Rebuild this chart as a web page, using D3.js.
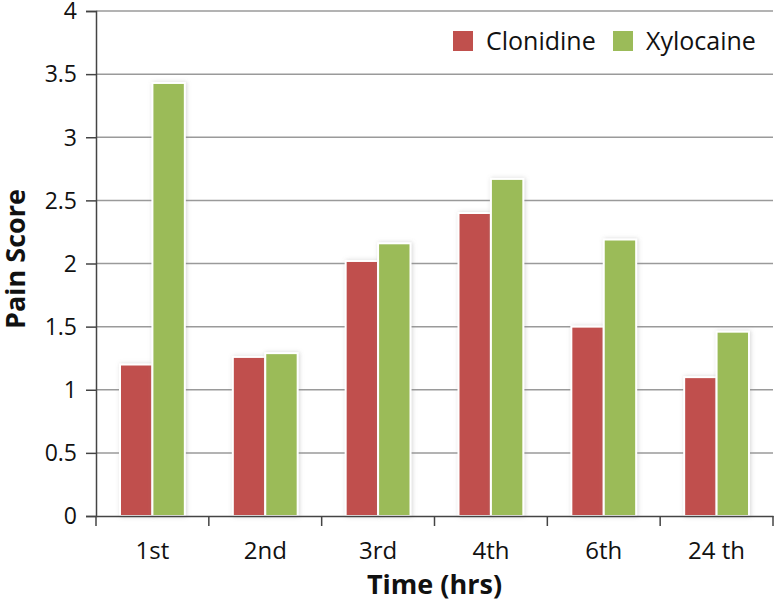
<!DOCTYPE html>
<html>
<head>
<meta charset="utf-8">
<script src="https://cdn.jsdelivr.net/npm/d3@7"></script>
<style>
  body { margin: 0; background: #fff; }
  text { font-family: "Open Sans", "Noto Sans", sans-serif; fill: #111; }
</style>
</head>
<body>
<div id="chart"></div>
<script>
// data
const times = ["1st", "2nd", "3rd", "4th", "6th", "24 th"];
const seriesNames = ["Clonidine", "Xylocaine"];
const clonidine = [1.2, 1.26, 2.02, 2.4, 1.5, 1.1];
const xylocaine = [3.43, 1.29, 2.16, 2.67, 2.19, 1.46];
const yTicks = [0, 0.5, 1, 1.5, 2, 2.5, 3, 3.5, 4];
const colors = ["#C0504D", "#9BBB59"];

var svgWidth = 774;
var svgHeight = 606;

var margin = { top: 11, right: 1, bottom: 90, left: 96 };
var width = svgWidth - margin.left - margin.right;
var height = svgHeight - margin.top - margin.bottom;

var svg = d3.select("#chart")
  .append("svg")
  .attr("width", svgWidth)
  .attr("height", svgHeight);

// soft shadow round the bars
var defs = svg.append("defs");
defs.append("filter")
  .attr("id", "shadow")
  .attr("x", "-30%").attr("y", "-10%")
  .attr("width", "160%").attr("height", "120%")
  .append("feDropShadow")
  .attr("dx", 1).attr("dy", 0)
  .attr("stdDeviation", 2)
  .attr("flood-color", "#888")
  .attr("flood-opacity", 0.35);

var chartGroup = svg.append("g")
  .attr("transform", `translate(${margin.left}, ${margin.top})`);

const x0 = d3.scaleBand()
  .domain(times)
  .range([0, width]);

const x1 = d3.scaleBand()
  .domain(seriesNames)
  .range([24, x0.bandwidth() - 24]);

const y = d3.scaleLinear()
  .domain([0, 4])
  .range([height, 0]);

// gridlines
chartGroup.append("g")
  .selectAll("line")
  .data(yTicks.filter(d => d > 0))
  .enter()
  .append("line")
  .attr("x1", 0)
  .attr("x2", width)
  .attr("y1", d => y(d))
  .attr("y2", d => y(d))
  .attr("stroke", "#9a9a9a")
  .attr("stroke-width", 1.5);

// bars
const rows = times.map((t, i) => ({ time: t, values: [clonidine[i], xylocaine[i]] }));

const groups = chartGroup.selectAll(".grp")
  .data(rows)
  .enter()
  .append("g")
  .attr("transform", d => `translate(${x0(d.time)}, 0)`);

groups.selectAll("rect")
  .data(d => d.values.map((v, j) => ({ name: seriesNames[j], value: v, idx: j })))
  .enter()
  .append("rect")
  .attr("x", d => x1(d.name))
  .attr("width", x1.bandwidth())
  .attr("y", d => y(d.value))
  .attr("height", d => height - y(d.value))
  .attr("fill", d => colors[d.idx])
  .attr("stroke", "#fff")
  .attr("stroke-width", 2)
  .attr("filter", "url(#shadow)");

// axes
const leftAxis = d3.axisLeft(y)
  .tickValues(yTicks)
  .tickFormat(d3.format("~g"))
  .tickSize(10)
  .tickPadding(9);

const yAxis = chartGroup.append("g").call(leftAxis);
yAxis.select(".domain").attr("stroke", "#444").attr("stroke-width", 1.5);
yAxis.selectAll(".tick line").attr("stroke", "#444").attr("stroke-width", 1.5);
yAxis.selectAll("text")
  .style("font-size", "23px")
  .attr("dy", "0.34em")
  .attr("fill", "#111");

const bottomAxis = d3.axisBottom(x0)
  .tickSize(0)
  .tickPadding(26);

const xAxis = chartGroup.append("g")
  .attr("transform", `translate(0, ${height})`)
  .call(bottomAxis);
xAxis.select(".domain").attr("stroke", "#444").attr("stroke-width", 1.5);
xAxis.selectAll("text")
  .style("font-size", "24px")
  .attr("fill", "#111");

// tick marks between categories
xAxis.selectAll(".sep")
  .data(d3.range(times.length + 1))
  .enter()
  .append("line")
  .attr("x1", i => i * x0.bandwidth())
  .attr("x2", i => i * x0.bandwidth())
  .attr("y1", 0)
  .attr("y2", 10)
  .attr("stroke", "#444")
  .attr("stroke-width", 1.5);

// axis titles
chartGroup.append("text")
  .attr("x", width / 2)
  .attr("y", height + 78)
  .attr("text-anchor", "middle")
  .style("font-size", "27px")
  .style("font-weight", "bold")
  .text("Time (hrs)");

chartGroup.append("text")
  .attr("transform", "rotate(-90)")
  .attr("x", 0 - 248)
  .attr("y", 0 - margin.left + 25)
  .attr("text-anchor", "middle")
  .style("font-size", "27px")
  .style("font-weight", "bold")
  .text("Pain Score");

// legend
const legend = svg.append("g");
const legendX = [453, 613];
seriesNames.forEach((name, i) => {
  legend.append("rect")
    .attr("x", legendX[i])
    .attr("y", 31)
    .attr("width", 20)
    .attr("height", 20)
    .attr("fill", colors[i]);
  legend.append("text")
    .attr("x", legendX[i] + 33)
    .attr("y", 50)
    .style("font-size", "25px")
    .text(name);
});
</script>
</body>
</html>
